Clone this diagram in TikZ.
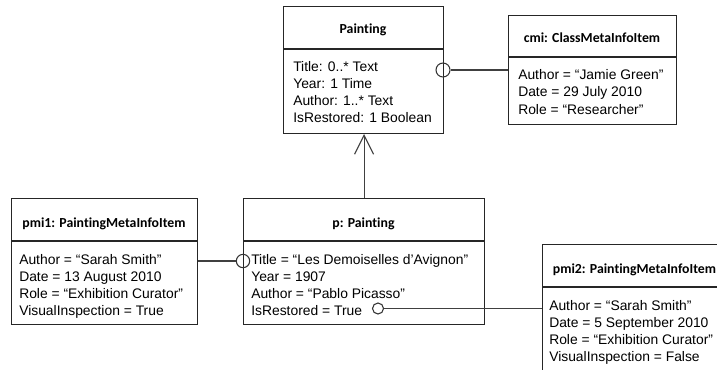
\documentclass[tikz,border=0pt]{standalone}
\usepackage{fontspec}
\setmainfont{Liberation Sans}
\newfontfamily\hdrfont{Carlito}[Ligatures={NoCommon}]
\usetikzlibrary{arrows.meta}
\begin{document}
\begin{tikzpicture}[x=0.75pt,y=-0.75pt,
  box/.style={draw=black!85, line width=0.8pt, inner sep=0pt, anchor=north west},
  sepline/.style={draw=black!85, line width=0.8pt},
  hdr/.style={font=\hdrfont\bfseries\fontsize{10.35}{12}\selectfont, inner sep=0pt, anchor=base},
  row/.style={font=\fontsize{10.4}{12}\selectfont, inner sep=0pt, anchor=base west},
  conn/.style={draw=black!75, line width=0.8pt},
  lolly/.style={circle, draw=black!80, line width=0.8pt, inner sep=0pt}]
\useasboundingbox (0,0) rectangle (717,369);
\clip (0,0) rectangle (717,369);

% Painting (class)
\node[box, minimum width=120pt, minimum height=95.25pt] (painting) at (283,6) {};
\draw[sepline] (283,49) -- (443,49);
\node[hdr] (painting-h) at (363,33) {Painting};
\foreach \t [count=\i] in {Title: 0..* Text, Year: 1 Time, Author: 1..* Text, IsRestored: 1 Boolean}
  \node[row] (painting-r\i) at (293,{71+17*(\i-1)}) {\t};

% cmi
\node[box, minimum width=126pt, minimum height=81.75pt] (cmi) at (508,15) {};
\draw[sepline] (508,57) -- (676,57);
\node[hdr] (cmi-h) at (592,42) {cmi: ClassMetaInfoItem};
\foreach \t [count=\i] in {Author = “Jamie Green”, Date = 29 July 2010, Role = “Researcher”}
  \node[row] (cmi-r\i) at (518,{79+17.5*(\i-1)}) {\t};

% pmi1
\node[box, minimum width=139.5pt, minimum height=94.5pt] (pmi1) at (11,198) {};
\draw[sepline] (11,241) -- (197,241);
\node[hdr] (pmi1-h) at (104,227) {pmi1: PaintingMetaInfoItem};
\foreach \t [count=\i] in {Author = “Sarah Smith”, Date = 13 August 2010, Role = “Exhibition Curator”, VisualInspection = True}
  \node[row] (pmi1-r\i) at (19,{264+17*(\i-1)}) {\t};

% p
\node[box, minimum width=180.75pt, minimum height=94.5pt] (p) at (243,198) {};
\draw[sepline] (243,241) -- (484,241);
\node[hdr] (p-h) at (363.5,227) {p: Painting};
\foreach \t [count=\i] in {Title = “Les Demoiselles d’Avignon”, Year = 1907, Author = “Pablo Picasso”, IsRestored = True}
  \node[row] (p-r\i) at (251,{264+17*(\i-1)}) {\t};

% pmi2
\node[box, minimum width=138.75pt, minimum height=94.5pt] (pmi2) at (542,244) {};
\draw[sepline] (542,287) -- (727,287);
\node[hdr] (pmi2-h) at (634.5,273) {pmi2: PaintingMetaInfoItem};
\foreach \t [count=\i] in {Author = “Sarah Smith”, Date = 5 September 2010, Role = “Exhibition Curator”, VisualInspection = False}
  \node[row] (pmi2-r\i) at (549,{310+17*(\i-1)}) {\t};

% connectors
\draw[conn, -{Straight Barb[length=14.25pt,width=14.25pt]}] (p.north) -- (p.north |- painting.south);

\node[lolly, minimum size=10.5pt] (c-cmi) at (443,70) {};
\draw[conn] (c-cmi.east) -- (c-cmi -| cmi.west);

\node[lolly, minimum size=10pt] (c-pmi1) at (243,261) {};
\draw[conn] (pmi1.east |- c-pmi1) -- (c-pmi1.west);

\node[lolly, minimum size=8.25pt] (c-pmi2) at (378,308.5) {};
\draw[conn] (c-pmi2.east) -- (c-pmi2 -| pmi2.west);
\end{tikzpicture}
\end{document}
